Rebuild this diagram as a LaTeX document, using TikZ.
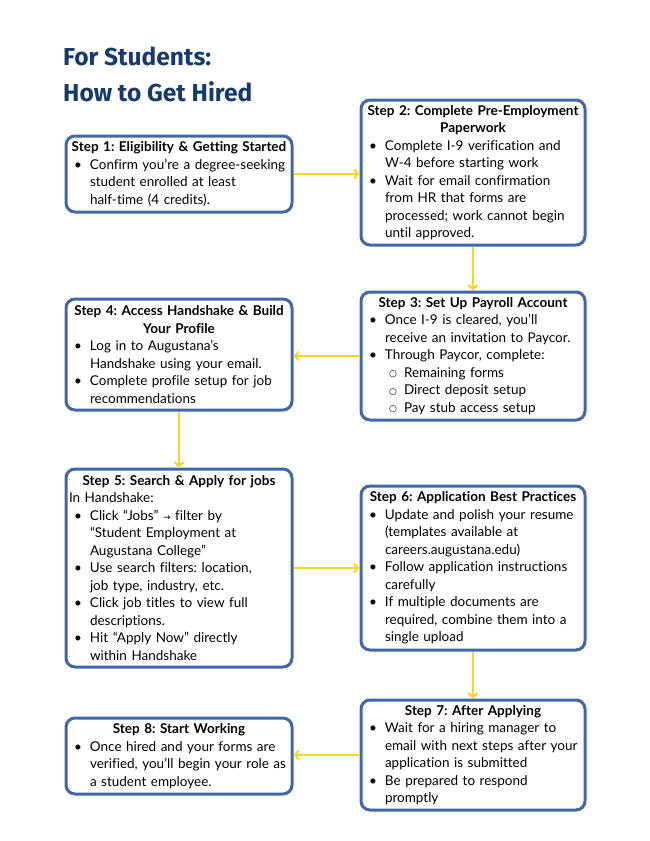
\documentclass[tikz,border=0pt]{standalone}
\usepackage{fontspec}
\setmainfont{Lato}[Ligatures=NoCommon]
\newfontfamily\headfont{Fira Sans}
\newfontfamily\symfont{DejaVu Sans}
\usetikzlibrary{arrows.meta}
\definecolor{navy}{HTML}{163A70}
\definecolor{boxblue}{HTML}{4068A8}
\definecolor{arrowgold}{HTML}{F8D51E}
\frenchspacing
\newcommand{\stephead}[1]{{\centering\bfseries #1\par}}
\newcommand{\bul}[1]{{\leftskip=21pt\noindent\llap{\textbullet\hspace{8pt}}#1\par}}
\newcommand{\subbul}[1]{{\leftskip=40pt\noindent\llap{\raisebox{0.5pt}{\symfont\fontsize{9}{9}\selectfont ○}\hspace{7pt}}#1\par}}

\begin{document}
\begin{tikzpicture}[x=1pt,y=-1pt,
  stepbox/.style={draw=boxblue,line width=3pt,rounded corners=9pt,fill=white,anchor=north west,
    align=left,inner xsep=3pt,inner ysep=3pt,font=\fontsize{13.5}{17.5}\selectfont},
  leftbox/.style={stepbox,text width=220pt},
  rightbox/.style={stepbox,text width=218pt},
  flow/.style={draw=arrowgold,line width=2pt,-{Straight Barb[length=4pt,width=9pt]}}]
\useasboundingbox (0,0) rectangle (650,841);
\node[anchor=base west,text=navy,font=\headfont\bfseries\fontsize{24.5}{30}\selectfont,inner sep=0pt] (head1) at (63,65) {For Students:};
\node[anchor=base west,text=navy,font=\headfont\bfseries\fontsize{24.5}{30}\selectfont,inner sep=0pt] (head2) at (63,101) {How to Get Hired};
\node[leftbox,minimum height=76pt] (1) at (64.5,134.5) {%
\stephead{Step 1: Eligibility \& Getting Started}
\bul{Confirm you're a degree-seeking\\student enrolled at least\\half-time (4 credits).}};
\node[rightbox,minimum height=145pt] (2) at (359.5,98.5) {%
\stephead{Step 2: Complete Pre-Employment\\Paperwork}
\bul{Complete I-9 verification and\\W-4 before starting work}
\bul{Wait for email confirmation\\from HR that forms are\\processed; work cannot begin\\until approved.}};
\node[rightbox,minimum height=128pt] (3) at (359.5,290.5) {%
\stephead{Step 3: Set Up Payroll Account}
\bul{Once I-9 is cleared, you’ll\\receive an invitation to Paycor.}
\bul{Through Paycor, complete:}
\subbul{Remaining forms}
\subbul{Direct deposit setup}
\subbul{Pay stub access setup}};
\node[leftbox,minimum height=111pt] (4) at (64.5,297.5) {%
\stephead{Step 4: Access Handshake \& Build\\Your Profile}
\bul{Log in to Augustana’s\\Handshake using your email.}
\bul{Complete profile setup for job\\recommendations}};
\node[leftbox,minimum height=198pt] (5) at (64.5,467.5) {%
\stephead{Step 5: Search \& Apply for jobs}
\noindent In Handshake:\par
\bul{Click “Jobs” {\symfont\small →} filter by\\“Student Employment at\\Augustana College”}
\bul{Use search filters: location,\\job type, industry, etc.}
\bul{Click job titles to view full\\descriptions.}
\bul{Hit “Apply Now” directly\\within Handshake}};
\node[rightbox,minimum height=164pt] (6) at (359.5,484.5) {%
\stephead{Step 6: Application Best Practices}
\bul{Update and polish your resume\\(templates available at\\careers.augustana.edu)}
\bul{Follow application instructions\\carefully}
\bul{If multiple documents are\\required, combine them into a\\single upload}};
\node[rightbox,minimum height=110pt] (7) at (359.5,698.5) {%
\stephead{Step 7: After Applying}
\bul{Wait for a hiring manager to\\email with next steps after your\\application is submitted}
\bul{Be prepared to respond\\promptly}};
\node[leftbox,minimum height=76pt] (8) at (64.5,716.5) {%
\stephead{Step 8: Start Working}
\bul{Once hired and your forms are\\verified, you'll begin your role as\\a student employee.}};
\path (1.east) edge[flow] (1.east -| 2.west);
\path (2.south -| 3.north) edge[flow] (3.north);
\path (3.west) edge[flow] (3.west -| 4.east);
\path (4.south) edge[flow] (5.north);
\path (5.east) edge[flow] (5.east -| 6.west);
\path (6.south) edge[flow] (7.north);
\path (7.west) edge[flow] (7.west -| 8.east);
\end{tikzpicture}
\end{document}
